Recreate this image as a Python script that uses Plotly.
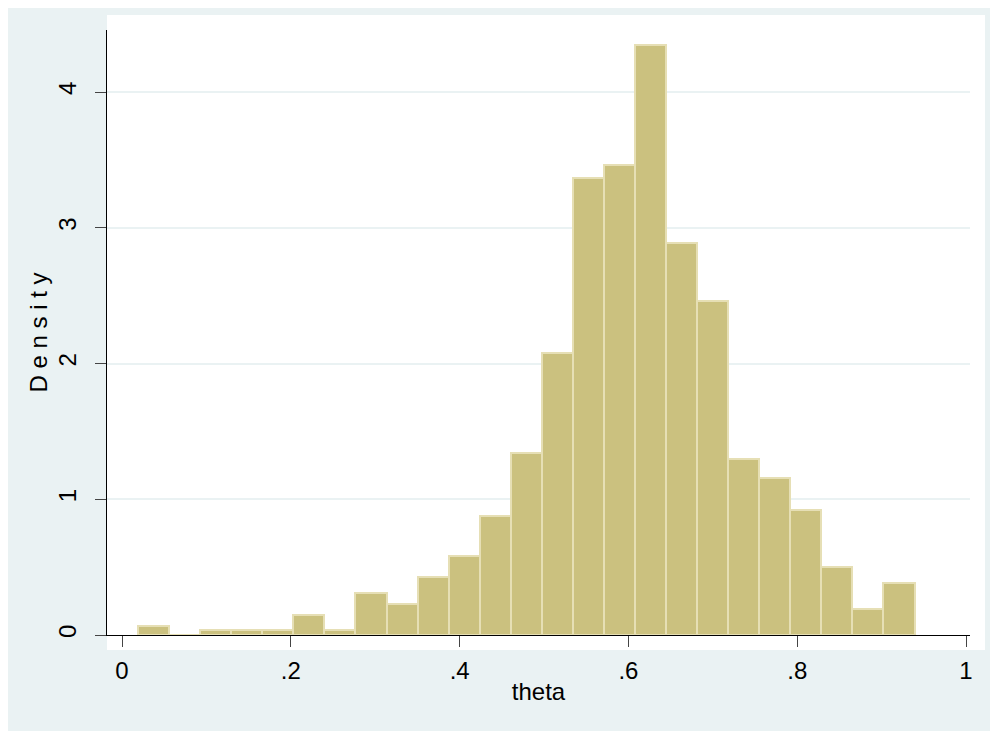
import plotly.graph_objects as go

bin_start = 0.019
bin_width = 0.0368
density = [0.07, 0.0, 0.04, 0.04, 0.04, 0.15, 0.04, 0.31, 0.23, 0.43, 0.58, 0.88,
           1.34, 2.08, 3.37, 3.46, 4.35, 2.89, 2.46, 1.30, 1.16, 0.92, 0.50, 0.19, 0.38]
centers = [bin_start + bin_width * (i + 0.5) for i in range(len(density))]
xticks = [0, 0.2, 0.4, 0.6, 0.8, 1]
xlabels = ["0", ".2", ".4", ".6", ".8", "1"]
yticks = [0, 1, 2, 3, 4]

fig = go.Figure(go.Bar(x=centers, y=density, width=bin_width,
                       marker=dict(color="#CBC17F", line=dict(color="#E6DFB5", width=2))))
font = dict(family="Liberation Sans, Arial", size=24, color="black")
tfont = dict(family="Liberation Sans, Arial", size=24, color="black")
fig.update_layout(
    width=998, height=731, margin=dict(l=99, r=36, t=22, b=104, autoexpand=False),
    paper_bgcolor="#EAF2F3", plot_bgcolor="white", showlegend=False, font=font,
    bargap=0,
    shapes=[dict(type="rect", xref="paper", yref="paper", x0=0, x1=1.0174, y0=-0.0248, y1=1.0248,
                 fillcolor="white", line=dict(width=0), layer="below")],
    xaxis=dict(range=[-0.0178, 1.0047], tickvals=xticks, ticktext=xlabels, ticks="outside",
               ticklen=11, showline=True, linecolor="black", showgrid=False, zeroline=False,
               ticklabelstandoff=3,
               automargin=False, title=dict(text="theta", standoff=0, font=tfont), tickfont=font),
    yaxis=dict(range=[0, 4.457], tickvals=yticks, ticks="outside", ticklen=11, tickangle=-90,
               showline=True, linecolor="black", gridcolor="#EAF2F3", gridwidth=1.5, zeroline=False,
               ticklabelstandoff=9,
               automargin=False, title=dict(text="D e n s i t y", standoff=0, font=tfont), tickfont=font),
)
fig.write_html("out.html")
